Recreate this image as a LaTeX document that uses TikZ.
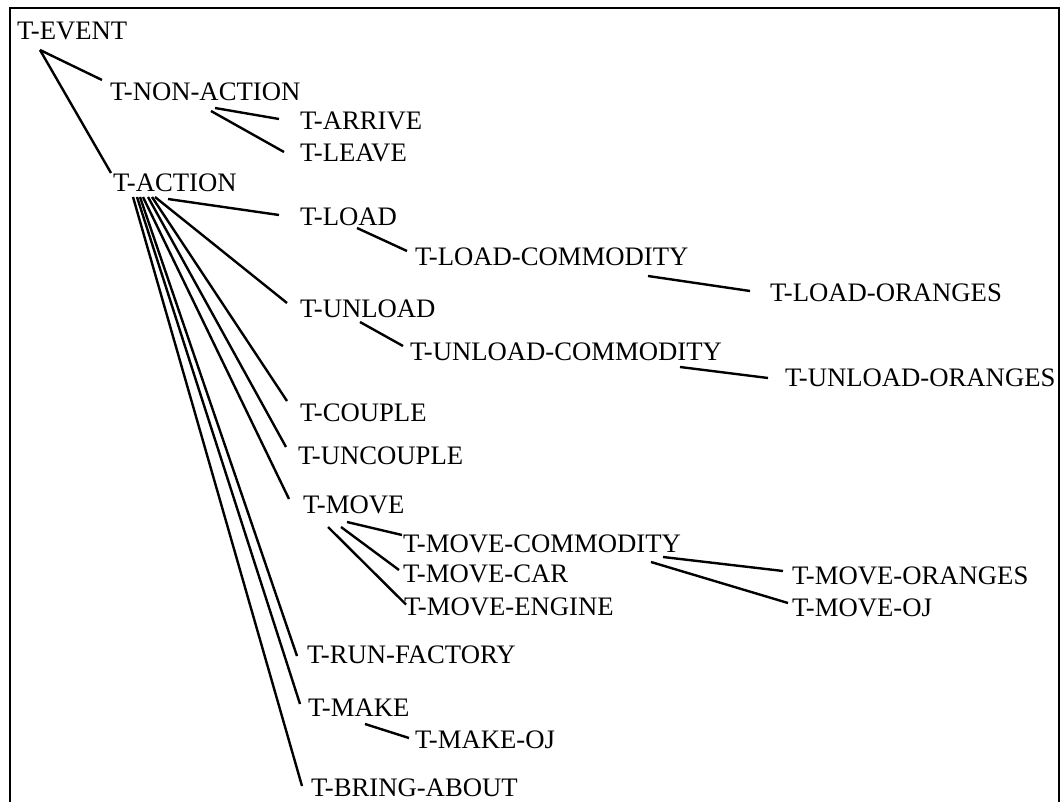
\documentclass[tikz,border=0pt]{standalone}
\usepackage{fontspec}
\setmainfont{Liberation Serif}
\begin{document}
\begin{tikzpicture}[x=1pt,y=-1pt,
  lbl/.style={anchor=base west,inner sep=0pt,outer sep=0pt,font=\fontsize{26.7}{30}\selectfont},
  edge/.style={line width=2.4pt,line cap=butt},
  frame/.style={line width=2.6pt}]
\useasboundingbox (0,0) rectangle (1062,802);
\draw[frame] (10,803) -- (10,8) -- (1059,8) -- (1059,803);
% nodes
\node[lbl] (ev)   at (17,40)    {T-EVENT};
\node[lbl] (non)  at (110,101)  {T-NON-ACTION};
\node[lbl] (arr)  at (300,129.5){T-ARRIVE};
\node[lbl] (lea)  at (300,162)  {T-LEAVE};
\node[lbl] (act)  at (113,192)  {T-ACTION};
\node[lbl] (load) at (300,226)  {T-LOAD};
\node[lbl] (lcom) at (415,265.5){T-LOAD-COMMODITY};
\node[lbl] (lor)  at (770,301.5){T-LOAD-ORANGES};
\node[lbl] (unl)  at (300,317)  {T-UNLOAD};
\node[lbl] (ucom) at (410,360)  {T-UNLOAD-COMMODITY};
\node[lbl] (uor)  at (785,386.5){T-UNLOAD-ORANGES};
\node[lbl] (cou)  at (300,421)  {T-COUPLE};
\node[lbl] (unc)  at (298,464)  {T-UNCOUPLE};
\node[lbl] (mov)  at (303,513.5){T-MOVE};
\node[lbl] (mcom) at (403,552)  {T-MOVE-COMMODITY};
\node[lbl] (mcar) at (403,582.5){T-MOVE-CAR};
\node[lbl] (meng) at (404,615.5){T-MOVE-ENGINE};
\node[lbl] (mor)  at (792,584)  {T-MOVE-ORANGES};
\node[lbl] (moj)  at (792,616.5){T-MOVE-OJ};
\node[lbl] (run)  at (307,663)  {T-RUN-FACTORY};
\node[lbl] (make) at (308,716.5){T-MAKE};
\node[lbl] (mkoj) at (415,748)  {T-MAKE-OJ};
\node[lbl] (bri)  at (311,796)  {T-BRING-ABOUT};
% connectors
\draw[edge] ([shift={(23,10)}]ev.base west) -- ([shift={(-8,-21)}]non.base west);
\draw[edge] ([shift={(23,10)}]ev.base west) -- ([shift={(-2,-19)}]act.base west);
\draw[edge] ([shift={(105,7)}]non.base west) -- ([shift={(-21,-10.5)}]arr.base west);
\draw[edge] ([shift={(101,10)}]non.base west) -- ([shift={(-16,-10)}]lea.base west);
\draw[edge] ([shift={(55,7)}]act.base west) -- ([shift={(-21,-11)}]load.base west);
\draw[edge] ([shift={(42,5)}]act.base west) -- ([shift={(-13,-14)}]unl.base west);
\draw[edge] ([shift={(39,5)}]act.base west) -- ([shift={(-13,-20)}]cou.base west);
\draw[edge] ([shift={(35,5)}]act.base west) -- ([shift={(-12,-17)}]unc.base west);
\draw[edge] ([shift={(30,5)}]act.base west) -- ([shift={(-14,-14.5)}]mov.base west);
\draw[edge] ([shift={(27,5)}]act.base west) -- ([shift={(-10,-7)}]run.base west);
\draw[edge] ([shift={(24,5)}]act.base west) -- ([shift={(-8,-12.5)}]make.base west);
\draw[edge] ([shift={(20,5)}]act.base west) -- ([shift={(-9,-10)}]bri.base west);
\draw[edge] ([shift={(57,2)}]load.base west) -- ([shift={(-8,-14.5)}]lcom.base west);
\draw[edge] ([shift={(233,10.5)}]lcom.base west) -- ([shift={(-20,-10.5)}]lor.base west);
\draw[edge] ([shift={(60,5)}]unl.base west) -- ([shift={(-7,-14)}]ucom.base west);
\draw[edge] ([shift={(270,7)}]ucom.base west) -- ([shift={(-17,-8.5)}]uor.base west);
\draw[edge] ([shift={(44,8.5)}]mov.base west) -- ([shift={(-1,-17)}]mcom.base west);
\draw[edge] ([shift={(38,13.5)}]mov.base west) -- ([shift={(-4,-12.5)}]mcar.base west);
\draw[edge] ([shift={(25,13.5)}]mov.base west) -- ([shift={(2,-11)}]meng.base west);
\draw[edge] ([shift={(260,5)}]mcom.base west) -- ([shift={(-9,-13)}]mor.base west);
\draw[edge] ([shift={(248,10)}]mcom.base west) -- ([shift={(-4,-13.5)}]moj.base west);
\draw[edge] ([shift={(57,7.5)}]make.base west) -- ([shift={(-6,-10)}]mkoj.base west);
\end{tikzpicture}
\end{document}
